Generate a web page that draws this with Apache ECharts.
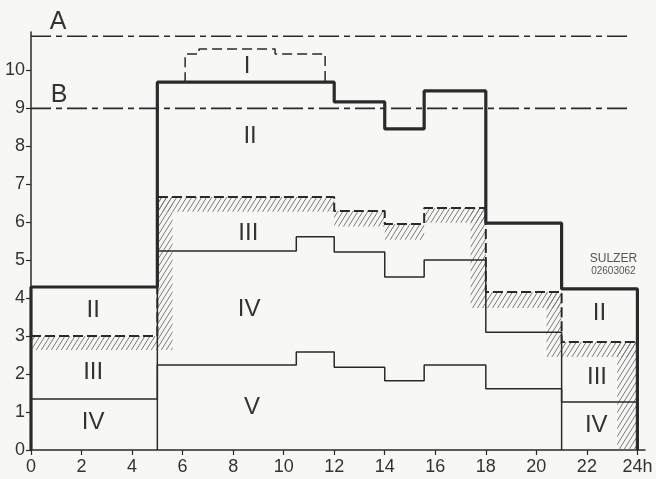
<!DOCTYPE html>
<html><head><meta charset="utf-8">
<script src="https://cdn.jsdelivr.net/npm/echarts@6/dist/echarts.min.js"></script>
<style>html,body{margin:0;padding:0;background:#f7f7f5}#c{width:656px;height:479px}</style>
</head><body><div id="c"></div>
<script>
// ---- data (hours, load units) ----
const xTicks = [0,2,4,6,8,10,12,14,16,18,20,22,24];
const yTicks = [0,1,2,3,4,5,6,7,8,9,10];
// total demand (thick line): step breakpoints and levels
const totalX = [0,5,12,14,15.56,18,21,24];
const totalY = [4.29,9.68,9.16,8.45,9.45,5.97,4.24];
// region I (dashed peak on top)
const peakX = [6.1,6.65,9.66,11.64];
const peakY = [10.42,10.55,10.42];
// boundary II / III (dashed)
const b23X = [0,5,12,14,15.56,18,21,24];
const b23Y = [3.0,6.66,6.29,5.95,6.37,4.16,2.84];
// boundary III / IV (thin)
const b34X = [0,5,10.5,12,14,15.56,18,21,24];
const b34Y = [1.34,5.24,5.61,5.21,4.55,5.0,3.1,1.26];
// boundary IV / V (thin)
const b45X = [5,10.5,12,14,15.56,18,21];
const b45Y = [2.24,2.58,2.18,1.82,2.24,1.61];
// limits A and B
const limitA = 10.89, limitB = 8.99, limitEnd = 23.64;
// hatched bands [x0, x1, y0, y1]
const hatchX0 = [0,5,5,12,14,15.56,17.4,18,20.4,21,23.2];
const hatchX1 = [5,5.6,12,14,15.56,18,18,21,21,24,24];
const hatchY0 = [2.63,2.63,6.27,5.88,5.53,5.98,3.74,3.74,2.45,2.45,0];
const hatchY1 = [3.0,6.66,6.66,6.29,5.95,6.37,6.37,4.16,4.16,2.84,2.84];
// region labels
const regText = ['I','II','III','IV','V','II','III','IV','II','III','IV'];
const regX = [8.55,8.67,8.6,8.63,8.75,2.46,2.46,2.46,22.5,22.4,22.37];
const regY = [10.1,8.26,5.71,3.71,1.13,3.68,2.03,0.74,3.6,1.92,0.66];
const limText = ['A','B'];
const limX = [1.07,1.11];
const limY = [11.26,9.34];
const stampText = ['SULZER','02603062'];
const stampX = [23.05,23.05];
const stampY = [5.03,4.71];

function stepData(xs, ys, closeStart, closeEnd){
  const d = [];
  if (closeStart) d.push([xs[0],0]);
  for (let i=0;i<ys.length;i++) d.push([xs[i],ys[i]]);
  d.push([xs[xs.length-1], ys[ys.length-1]]);
  if (closeEnd) d.push([xs[xs.length-1],0]);
  return d;
}
function makeHatch(){
  const w=5,h=8;
  const c=document.createElement('canvas'); c.width=w; c.height=h;
  const g=c.getContext('2d'); g.strokeStyle='#7a7a7a'; g.lineWidth=1;
  g.beginPath();
  for (const k of [-w,0,w]) { g.moveTo(k,h); g.lineTo(k+w,0); }
  g.stroke();
  return c;
}
const hatch = {image: makeHatch(), repeat:'repeat'};
const ink = '#2a2a2a';

const peakData = [[peakX[0],totalY[1]]];
for (let i=0;i<peakY.length;i++) peakData.push([peakX[i],peakY[i]]);
peakData.push([peakX[peakX.length-1], totalY[1]]);

const b45Data = [[b45X[0],0]];
for (let i=0;i<b45Y.length;i++) b45Data.push([b45X[i],b45Y[i]]);
b45Data.push([b45X[b45X.length-1],0]);

const lineS = (data, width, type, z) => ({
  type:'line', data, step:'end', symbol:'none', silent:true, z,
  lineStyle:{color:ink, width, type}, animation:false
});
const textSeries = (xs, ys, texts, font, extra) => ({
  type:'custom', data: xs.map((x,i)=>[x, ys[i]]), z:20, animation:false, silent:true,
  encode:{x:0,y:1},
  renderItem:(params, api)=>{
    const p = api.coord([api.value(0), api.value(1)]);
    return {type:'text', x:p[0], y:p[1], style:Object.assign({text:texts[params.dataIndex], font, fill:'#333', align:'center', verticalAlign:'middle'}, extra||{})};
  }
});

const chart = echarts.init(document.getElementById('c'), null, {renderer:'canvas'});
chart.setOption({
  backgroundColor:'#f7f7f5',
  animation:false,
  grid:{left:31, right:11, top:32, bottom:29},
  xAxis:{type:'value', min:0, max:24.3,
    axisLine:{lineStyle:{color:ink, width:1.5}},
    axisTick:{customValues:xTicks, length:5, lineStyle:{color:ink, width:1.2}},
    axisLabel:{customValues:xTicks, margin:8, color:'#333', fontFamily:'Liberation Sans', fontSize:18,
      formatter:v=> v===24 ? '24h' : String(v)},
    splitLine:{show:false}},
  yAxis:{type:'value', min:0, max:11,
    axisLine:{show:true, lineStyle:{color:ink, width:1.5}},
    axisTick:{show:true, customValues:yTicks, length:5, lineStyle:{color:ink, width:1.2}},
    axisLabel:{customValues:yTicks, margin:6, color:'#333', fontFamily:'Liberation Sans', fontSize:18},
    splitLine:{show:false}},
  series:[
    {type:'custom', z:1, animation:false, silent:true,
     data: hatchX0.map((x,i)=>[x, hatchX1[i], hatchY0[i], hatchY1[i]]),
     encode:{x:[0,1], y:[2,3]},
     renderItem:(params, api)=>{
       const a = api.coord([api.value(0), api.value(3)]);
       const b = api.coord([api.value(1), api.value(2)]);
       return {type:'rect', shape:{x:a[0], y:a[1], width:b[0]-a[0], height:b[1]-a[1]}, style:{fill:hatch}};
     }},
    lineS([[0,limitA],[limitEnd,limitA]], 1.6, [20,5,6,5], 3),
    lineS([[0,limitB],[limitEnd,limitB]], 1.6, [20,5,6,5], 3),
    lineS(b45Data, 1.5, 'solid', 4),
    lineS(stepData(b34X,b34Y,false,false), 1.5, 'solid', 4),
    lineS(stepData(b23X,b23Y,false,false), 2, [10,4], 5),
    lineS(peakData, 1.5, [10,5], 5),
    lineS(stepData(totalX,totalY,true,true), 3.2, 'solid', 6),
    textSeries(regX, regY, regText, '24px "Liberation Sans"'),
    textSeries(limX, limY, limText, '25px "Liberation Sans"'),
    textSeries(stampX.slice(0,1), stampY.slice(0,1), stampText.slice(0,1), '12px "Liberation Sans"', {fill:'#555'}),
    textSeries(stampX.slice(1), stampY.slice(1), stampText.slice(1), '10px "Liberation Sans"', {fill:'#555'})
  ]
});
</script></body></html>
